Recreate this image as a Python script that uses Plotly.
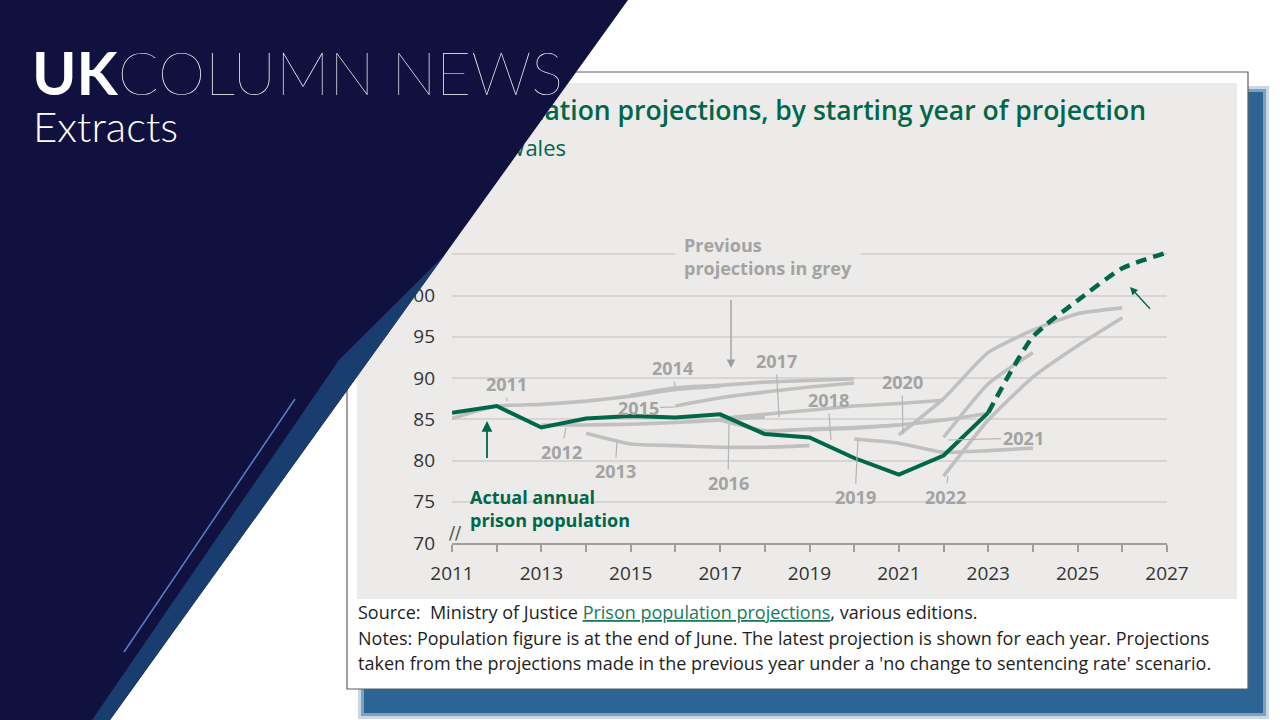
import plotly.graph_objects as go

W, H = 1280, 720

# ---------------- data ----------------
actual_years = [2011, 2012, 2013, 2014, 2015, 2016, 2017, 2018, 2019, 2020, 2021, 2022, 2023]
actual_pop = [85.8, 86.6, 84.0, 85.1, 85.4, 85.2, 85.6, 83.2, 82.8, 80.3, 78.3, 80.6, 85.8]

latest_years = [2023, 2024, 2025, 2026, 2027]
latest_pop = [85.8, 95.0, 99.4, 103.3, 105.2]

p2011_years = [2011, 2012, 2013, 2014, 2015, 2016, 2017]
p2011 = [85.1, 86.6, 86.8, 87.2, 87.8, 88.6, 89.0]
p2012_years = [2013, 2014, 2015, 2016, 2017, 2018]
p2012 = [84.3, 84.3, 84.4, 84.6, 84.9, 85.3]
p2013_years = [2014, 2015, 2016, 2017, 2018, 2019]
p2013 = [83.3, 82.0, 81.8, 81.6, 81.6, 81.8]
p2014_years = [2015, 2016, 2017, 2018, 2019, 2020]
p2014 = [87.9, 88.8, 89.1, 89.5, 89.7, 89.9]
p2015_years = [2016, 2017, 2018, 2019, 2020]
p2015 = [86.6, 87.6, 88.3, 88.9, 89.4]
p2016_years = [2017, 2018, 2019, 2020, 2021]
p2016 = [84.9, 83.6, 83.8, 84.0, 84.3]
p2017_years = [2017, 2018, 2019, 2020, 2021, 2022]
p2017 = [85.1, 85.6, 86.1, 86.6, 86.9, 87.3]
p2018_years = [2019, 2020, 2021, 2022, 2023]
p2018 = [83.7, 83.9, 84.3, 84.9, 85.7]
p2019_years = [2020, 2021, 2022, 2023, 2024]
p2019 = [82.6, 82.1, 81.0, 81.2, 81.5]
p2020_years = [2021, 2022, 2023, 2024, 2025, 2026]
p2020 = [83.1, 87.5, 93.1, 95.8, 97.8, 98.5]
p2021_years = [2022, 2023, 2024]
p2021 = [82.8, 89.3, 93.1]
p2022_years = [2022, 2023, 2024, 2025, 2026]
p2022 = [78.1, 84.9, 90.1, 93.9, 97.3]

x_tick_years = list(range(2011, 2028))
x_tick_labels = [str(y) if y % 2 == 1 else "" for y in x_tick_years]
y_ticks = [70, 75, 80, 85, 90, 95, 100, 105, 110]

title_text = "Prison population projections, by starting year of projection"
subtitle_text = "Prison population, England and Wales"

# ---------------- style ----------------
GREEN = "#00674a"
GREY_LINE = "#c0c0c0"
GREY_TEXT = "#a3a3a3"
PANEL = "#ecebe9"
NAVY = "#11113f"
BAND = "#1a3d70"

# plot-area pixel frame
X0, X1 = 452, 1167     # 2011 .. 2027
YB, YT = 543, 213      # 70 .. 110


def fx(px):
    return px / W


def fy(py):
    return 1 - py / H


def xd(px):
    return 2011 + (px - X0) * 16 / (X1 - X0)


def yd(py):
    return 70 + (YB - py) * 40 / (YB - YT)


fig = go.Figure()

projections = [
    (p2011_years, p2011), (p2012_years, p2012), (p2013_years, p2013),
    (p2014_years, p2014), (p2015_years, p2015), (p2016_years, p2016),
    (p2017_years, p2017), (p2018_years, p2018), (p2019_years, p2019),
    (p2020_years, p2020), (p2021_years, p2021), (p2022_years, p2022),
]
for yrs, vals in projections:
    fig.add_trace(go.Scatter(
        x=yrs, y=vals, mode="lines",
        line=dict(color=GREY_LINE, width=3.6, shape="spline", smoothing=0.5),
        hoverinfo="skip", showlegend=False, cliponaxis=False))

fig.add_trace(go.Scatter(
    x=latest_years, y=latest_pop, mode="lines",
    line=dict(color=GREEN, width=4.5, dash="11px,7px", shape="spline", smoothing=0.6),
    hoverinfo="skip", showlegend=False, cliponaxis=False))
fig.add_trace(go.Scatter(
    x=actual_years, y=actual_pop, mode="lines",
    line=dict(color=GREEN, width=4),
    hoverinfo="skip", showlegend=False, cliponaxis=False))

# title / subtitle (partly covered by the navy panel)
fig.add_trace(go.Scatter(
    x=[1146], y=[113], mode="text", text=[title_text], textposition="middle left",
    textfont=dict(family="Open Sans", size=26.5, color=GREEN, weight=600),
    xaxis="x2", yaxis="y2", hoverinfo="skip", showlegend=False, cliponaxis=False))
fig.add_trace(go.Scatter(
    x=[566], y=[150], mode="text", text=[subtitle_text], textposition="middle left",
    textfont=dict(family="Open Sans", size=22, color=GREEN),
    xaxis="x2", yaxis="y2", hoverinfo="skip", showlegend=False, cliponaxis=False))

shapes = []
# card shadow
for pad, op in [(6, 0.25), (3, 0.45), (0, 0.9)]:
    shapes.append(dict(type="rect", xref="paper", yref="paper",
                       x0=fx(364 - pad), x1=fx(1263 + pad), y0=fy(713 + pad), y1=fy(92 - pad),
                       fillcolor="#245e8f", opacity=op, line=dict(width=0), layer="below"))
# card
shapes.append(dict(type="rect", xref="paper", yref="paper",
                   x0=fx(347), x1=fx(1248), y0=fy(689), y1=fy(72),
                   fillcolor="white", line=dict(color="#5f5f5f", width=1.2), layer="below"))
# grey panel
shapes.append(dict(type="rect", xref="paper", yref="paper",
                   x0=fx(357), x1=fx(1237), y0=fy(599), y1=fy(83),
                   fillcolor=PANEL, line=dict(width=0), layer="below"))


def xo(y):
    return 628 - 0.7194 * y


def xi(y):
    return 339 - (y - 360) * 0.6861


# navy panel
shapes.append(dict(type="path", xref="paper", yref="paper",
                   path=f"M 0 1 L {fx(628)} 1 L {fx(xo(720))} 0 L 0 0 Z",
                   fillcolor=NAVY, line=dict(width=0), layer="above"))
# lighter band along the diagonal (tapering in from the top)
band_path = (f"M {fx(xo(255))} {fy(255)} L {fx(xo(720))} {fy(720)} L {fx(xi(720))} {fy(720)} "
             f"L {fx(xi(360))} {fy(360)} Z")
shapes.append(dict(type="path", xref="paper", yref="paper", path=band_path,
                   fillcolor=BAND, opacity=1.0, line=dict(width=0), layer="above"))
# thin accent line
shapes.append(dict(type="line", xref="paper", yref="paper",
                   x0=fx(295), y0=fy(399), x1=fx(124), y1=fy(652),
                   line=dict(color="#5283c6", width=1.5), layer="above"))

annotations = []
# branding
annotations.append(dict(xref="paper", yref="paper", x=fx(30), y=fy(72), xanchor="left", yanchor="middle",
                        text="<b>UK</b>COLUMN NEWS", showarrow=False,
                        font=dict(family="Lato", size=60, color="white", weight=100)))
annotations.append(dict(xref="paper", yref="paper", x=fx(31), y=fy(126), xanchor="left", yanchor="middle",
                        text="Extracts", showarrow=False,
                        font=dict(family="Lato", size=42, color="white", weight=300)))

# year labels of the grey projections: (text, tip_x, tip_y, label_x, label_y) in px
labels = [
    ("2011", 507, 401, 506, 384),
    ("2012", 566, 428, 561, 452),
    ("2013", 617, 442, 615, 471),
    ("2014", 675, 386, 672, 368),
    ("2015", 675, 407, 638, 408),
    ("2016", 729, 424, 728, 483),
    ("2017", 779, 417, 776, 361),
    ("2018", 831, 440, 828, 400),
    ("2019", 858, 440, 855, 497),
    ("2020", 903, 434, 902, 382),
    ("2021", 948, 440, 1023, 438),
    ("2022", 948, 476, 945, 497),
]
for t, tx, ty, lx, ly in labels:
    annotations.append(dict(x=xd(tx), y=yd(ty), ax=lx - tx, ay=ly - ty, text=t,
                            showarrow=True, arrowhead=0, arrowwidth=1.2, arrowcolor="#b4b4b4",
                            standoff=0, startstandoff=0,
                            font=dict(family="Open Sans", size=18, color=GREY_TEXT, weight=700)))

annotations.append(dict(x=xd(675), y=yd(256), xanchor="left", yanchor="middle", align="left",
                        text="Previous<br>projections in grey", showarrow=False, bgcolor=PANEL, borderpad=8,
                        font=dict(family="Open Sans", size=18, color=GREY_TEXT, weight=700)))
annotations.append(dict(x=xd(731), y=yd(368), ax=0, ay=-78, text=" ", showarrow=True,
                        arrowhead=2, arrowsize=1.3, arrowwidth=1.3, arrowcolor="#9c9c9c"))

annotations.append(dict(x=xd(468), y=yd(508), xanchor="left", yanchor="middle", align="left",
                        text="Actual annual<br>prison population", showarrow=False,
                        font=dict(family="Open Sans", size=18, color=GREEN, weight=700)))
annotations.append(dict(x=xd(487), y=yd(421), ax=0, ay=47, text=" ", showarrow=True,
                        arrowhead=2, arrowsize=1.2, arrowwidth=1.8, arrowcolor=GREEN))

annotations.append(dict(x=xd(1195), y=yd(357), xanchor="right", yanchor="middle", align="right",
                        text="Latest<br>projections<br>(2023)", showarrow=False,
                        font=dict(family="Open Sans", size=18, color=GREEN, weight=700)))
annotations.append(dict(x=xd(1130), y=yd(287), ax=23, ay=25, text=" ", showarrow=True,
                        arrowhead=2, arrowsize=1.1, arrowwidth=1.4, arrowcolor=GREEN))

# axis break mark
annotations.append(dict(xref="paper", yref="paper", x=fx(455), y=fy(545), text="//", showarrow=False,
                        font=dict(family="DejaVu Sans", size=18, color="#555555")))

# source and notes
notes = [
    ("Source:  Ministry of Justice <span style='color:#1a7a5a'><u>Prison population projections</u></span>, various editions.", 612),
    ("Notes: Population figure is at the end of June. The latest projection is shown for each year. Projections", 638),
    ("taken from the projections made in the previous year under a 'no change to sentencing rate' scenario.", 663),
]
for t, py in notes:
    annotations.append(dict(xref="paper", yref="paper", x=fx(356), y=fy(py), xanchor="left", yanchor="middle",
                            text=t, showarrow=False,
                            font=dict(family="Open Sans", size=18, color="#1e1e1e")))

fig.update_layout(
    width=W, height=H, margin=dict(l=0, r=0, t=0, b=0, pad=0, autoexpand=False),
    autosize=False,
    paper_bgcolor="white", plot_bgcolor="rgba(0,0,0,0)",
    showlegend=False, shapes=shapes, annotations=annotations,
    xaxis=dict(domain=[fx(X0), fx(X1)], range=[2011, 2027], showgrid=False, zeroline=False,
               showline=True, linecolor="#9e9e9e", linewidth=2, automargin=False,
               tickmode="array", tickvals=x_tick_years, ticktext=x_tick_labels,
               ticks="outside", ticklen=7, tickwidth=2, tickcolor="#9e9e9e",
               tickfont=dict(family="Open Sans", size=19, color="#333333"),
               ticklabelstandoff=5, fixedrange=True),
    yaxis=dict(domain=[fy(YB), fy(YT)], range=[70, 110], showgrid=True, gridcolor="#d6d5d3", gridwidth=2,
               zeroline=False, showline=False, tickmode="array", tickvals=y_ticks, ticks="",
               automargin=False,
               tickfont=dict(family="Open Sans", size=19, color="#333333"),
               ticklabelstandoff=16, fixedrange=True),
    xaxis2=dict(domain=[0, 1], range=[0, W], visible=False, anchor="y2", fixedrange=True, automargin=False),
    yaxis2=dict(domain=[0, 1], range=[H, 0], visible=False, anchor="x2", fixedrange=True, automargin=False),
)

fig.write_html("out.html", config={"displayModeBar": False},
               post_script="document.body.style.margin='0';document.body.style.overflow='hidden';")
